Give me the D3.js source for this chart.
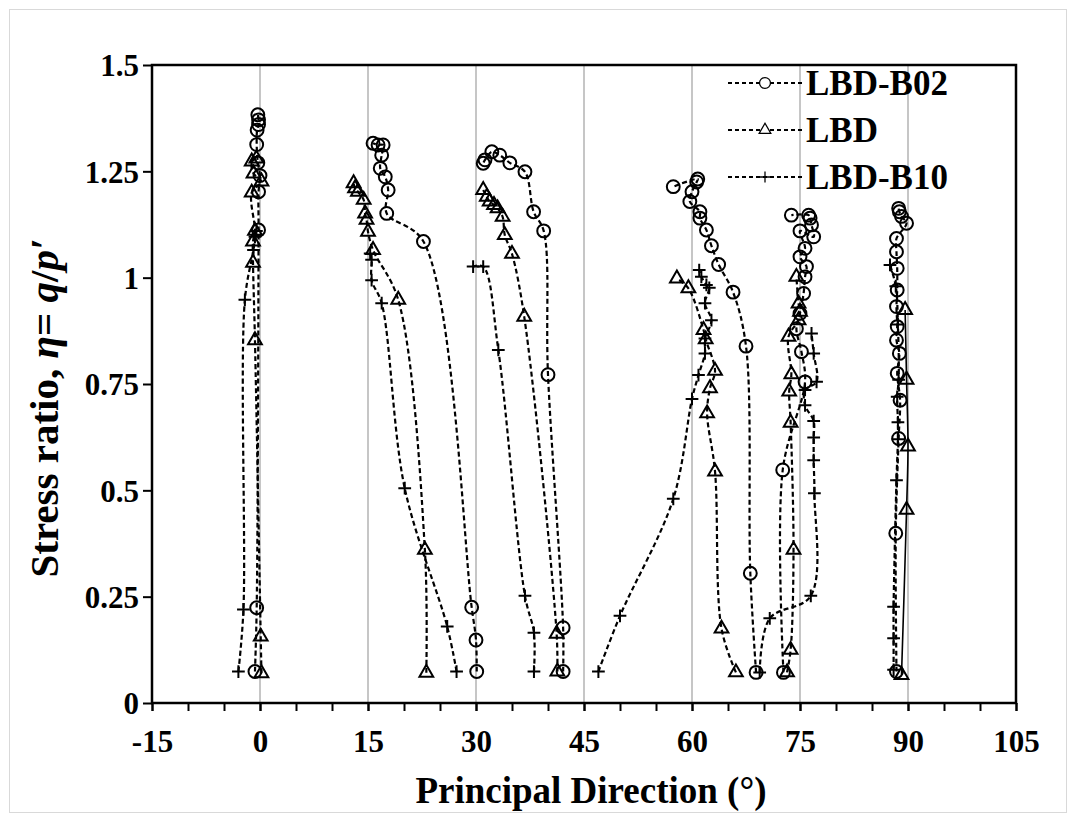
<!DOCTYPE html>
<html>
<head>
<meta charset="utf-8">
<script src="https://cdn.jsdelivr.net/npm/d3@7"></script>
<style>
  body { margin: 0; background: #fff; }
  text { font-family: "Liberation Serif", "Times New Roman", serif; font-weight: bold; fill: #000; }
</style>
</head>
<body>
<div id="chart"></div>
<script>
// data: each test is a list of [principal direction, stress ratio]
var seriesNames = ["LBD-B02", "LBD", "LBD-B10"];
var xTicks = [-15, 0, 15, 30, 45, 60, 75, 90, 105];
var yTicks = [0, 0.25, 0.5, 0.75, 1, 1.25, 1.5];
var gridX = [0, 15, 30, 45, 60, 75, 90];

var b02Tests = [
  [[-0.7,0.074],[-0.46,0.224],[-0.2,1.112],[-0.2,1.202],[0,1.24],[-0.3,1.27],[-0.46,1.313],[-0.4,1.347],[-0.2,1.36],[-0.2,1.371],[-0.3,1.383]],
  [[30.1,0.074],[30.0,0.148],[29.4,0.225],[22.7,1.085],[17.6,1.151],[17.8,1.206],[17.4,1.237],[16.7,1.257],[16.9,1.288],[17.1,1.312],[16.4,1.312],[15.7,1.316]],
  [[42.1,0.074],[42.1,0.177],[40.0,0.772],[39.4,1.11],[38.0,1.155],[36.8,1.249],[34.7,1.27],[33.3,1.288],[32.2,1.296],[31.25,1.277],[31.0,1.269]],
  [[68.9,0.072],[68.1,0.305],[67.5,0.839],[65.7,0.966],[63.7,1.031],[62.7,1.075],[62.0,1.112],[61.1,1.14],[61.1,1.155],[59.7,1.179],[60.0,1.202],[60.65,1.225],[60.8,1.232],[57.4,1.214]],
  [[72.7,0.072],[72.6,0.548],[75.7,0.755],[75.2,0.826],[74.5,0.88],[75.0,0.916],[75.5,0.963],[75.7,1.002],[75.9,1.026],[75.0,1.049],[75.7,1.069],[75.0,1.11],[76.9,1.096],[76.6,1.124],[76.4,1.14],[76.2,1.147],[73.8,1.147]],
  [[88.4,0.074],[88.3,0.399],[88.7,0.622],[88.9,0.712],[88.5,0.775],[88.8,0.822],[88.4,0.853],[88.5,0.885],[88.4,0.932],[88.5,0.971],[88.5,1.022],[88.4,1.061],[88.4,1.092],[89.8,1.128],[89.1,1.144],[88.8,1.155],[88.7,1.163]]
];

var lbdTests = [
  [[0.2,0.07],[0.1,0.156],[-0.7,0.853],[-0.97,1.035],[-0.97,1.085],[-0.7,1.11],[-1.15,1.2],[0.2,1.226],[-0.9,1.245],[-1.15,1.273],[-0.5,1.28]],
  [[23.1,0.071],[22.9,0.36],[19.2,0.948],[15.7,1.065],[15.0,1.108],[14.8,1.136],[14.6,1.151],[14.4,1.183],[13.6,1.202],[13.2,1.21],[13.0,1.222]],
  [[41.3,0.074],[41.2,0.163],[36.7,0.908],[35.0,1.056],[34.0,1.1],[33.7,1.143],[33.0,1.163],[32.5,1.171],[31.9,1.179],[31.5,1.19],[31.0,1.206]],
  [[66.1,0.072],[64.1,0.175],[63.2,0.544],[62.1,0.681],[62.5,0.74],[63.2,0.781],[61.9,0.855],[61.6,0.877],[59.5,0.975],[57.9,0.998]],
  [[73.2,0.072],[73.7,0.125],[74.1,0.36],[73.7,0.659],[73.5,0.732],[73.8,0.773],[73.4,0.861],[74.8,0.9],[75.0,0.92],[74.8,0.939],[74.5,1.002]],
  [[89.1,0.066],[89.8,0.454],[90.0,0.603],[89.8,0.76],[89.6,0.924]]
];

var b10Tests = [
  [[-3.0,0.074],[-2.3,0.22],[-2.1,0.948],[-0.9,1.065],[-0.7,1.096],[-0.5,1.11]],
  [[27.3,0.074],[26.0,0.18],[20.1,0.505],[16.9,0.94],[15.5,0.994],[15.5,1.042],[15.3,1.057]],
  [[38.05,0.074],[38.05,0.165],[36.8,0.252],[33.1,0.83],[31.0,1.026],[29.6,1.026]],
  [[47.0,0.074],[50.0,0.205],[57.4,0.48],[60.0,0.715],[60.9,0.771],[61.8,0.822],[61.8,0.857],[62.7,0.9],[61.8,0.94],[62.4,0.976],[62.0,0.983],[61.3,1.002],[61.0,1.018]],
  [[69.4,0.072],[70.8,0.199],[76.5,0.252],[77.0,0.493],[76.9,0.571],[76.9,0.624],[76.9,0.663],[75.7,0.70],[75.7,0.736],[77.3,0.755],[76.9,0.822],[76.6,0.869]],
  [[88.0,0.078],[88.0,0.152],[88.0,0.226],[88.4,0.524],[88.6,0.62],[88.6,0.66],[88.5,0.72],[88.7,0.76],[88.6,0.89],[88.3,0.98],[87.5,1.03]]
];

var svgWidth = 1075;
var svgHeight = 821;
var margin = { top: 65, right: 59, bottom: 118, left: 152 };
var width = svgWidth - margin.left - margin.right;
var height = svgHeight - margin.top - margin.bottom;

var svg = d3.select("#chart")
  .append("svg")
  .attr("width", svgWidth)
  .attr("height", svgHeight);

// light outer border
svg.append("rect")
  .attr("x", 9.5).attr("y", 9.5)
  .attr("width", 1057).attr("height", 803)
  .attr("fill", "none")
  .attr("stroke", "#d9d9d9");

var chartGroup = svg.append("g")
  .attr("transform", `translate(${margin.left}, ${margin.top})`);

var xScale = d3.scaleLinear().domain([-15, 105]).range([0, width]);
var yScale = d3.scaleLinear().domain([0, 1.5]).range([height, 0]);

// vertical grid lines
chartGroup.selectAll(".grid")
  .data(gridX)
  .enter()
  .append("line")
  .attr("x1", d => xScale(d)).attr("x2", d => xScale(d))
  .attr("y1", 0).attr("y2", height)
  .attr("stroke", "#a0a0a0")
  .attr("stroke-width", 1.2);

// frame
chartGroup.append("rect")
  .attr("width", width).attr("height", height)
  .attr("fill", "none")
  .attr("stroke", "#000")
  .attr("stroke-width", 2.5);

// minor x ticks every 5
var minorAxis = d3.axisBottom(xScale)
  .tickValues(d3.range(-15, 106, 5))
  .tickSize(8)
  .tickFormat("");
chartGroup.append("g")
  .attr("transform", `translate(0, ${height})`)
  .call(minorAxis)
  .call(g => g.select(".domain").remove())
  .call(g => g.selectAll("line").attr("stroke-width", 2));

var bottomAxis = d3.axisBottom(xScale).tickValues(xTicks).tickSize(8).tickPadding(19)
  .tickFormat(d => String(d));
var xAxis = chartGroup.append("g")
  .attr("transform", `translate(0, ${height})`)
  .call(bottomAxis);
xAxis.select(".domain").remove();
xAxis.selectAll("line").attr("stroke-width", 2);
xAxis.selectAll("text").style("font-size", "31px").attr("font-family", null);

var leftAxis = d3.axisLeft(yScale).tickValues(yTicks).tickSize(9).tickPadding(4)
  .tickFormat(d => String(d));
var yAxis = chartGroup.append("g").call(leftAxis);
yAxis.select(".domain").remove();
yAxis.selectAll("line").attr("stroke-width", 2);
yAxis.selectAll("text").style("font-size", "31px").attr("font-family", null).attr("dy", "0.35em");

// axis titles
svg.append("text")
  .attr("x", 591).attr("y", 803)
  .attr("text-anchor", "middle")
  .style("font-size", "37px")
  .text("Principal Direction (°)");

var yTitle = svg.append("text")
  .attr("transform", "translate(58, 408) rotate(-90)")
  .attr("text-anchor", "middle")
  .style("font-size", "41px");
yTitle.append("tspan").text("Stress ratio, ");
yTitle.append("tspan").style("font-style", "italic").text("η");
yTitle.append("tspan").text("= ");
yTitle.append("tspan").style("font-style", "italic").text("q");
yTitle.append("tspan").text("/");
yTitle.append("tspan").style("font-style", "italic").text("p′");

// lines and markers
var line = d3.line()
  .x(d => xScale(d[0]))
  .y(d => yScale(d[1]))
  .curve(d3.curveCatmullRom.alpha(0.5));

var symbols = [
  d3.symbol().type(d3.symbolCircle).size(130),
  d3.symbol().type(d3.symbolTriangle2 || d3.symbolTriangle).size(135),
  d3.symbol().type(d3.symbolPlus || d3.symbolCross).size(55)
];

function drawSeries(tests, idx, solidLast) {
  var g = chartGroup.append("g");
  tests.forEach(function(test, i) {
    var solid = solidLast && i === tests.length - 1;
    g.append("path")
      .attr("d", line(test))
      .attr("fill", "none")
      .attr("stroke", "#000")
      .attr("stroke-width", solid ? 1.6 : 2.2)
      .attr("stroke-dasharray", solid ? null : "5,3");
  });
  tests.forEach(function(test) {
    g.selectAll(null)
      .data(test)
      .enter()
      .append("path")
      .attr("d", symbols[idx])
      .attr("transform", d => `translate(${xScale(d[0])}, ${yScale(d[1])})`)
      .attr("fill", "none")
      .attr("stroke", "#000")
      .attr("stroke-width", 2);
  });
}

drawSeries(b02Tests, 0, false);
drawSeries(lbdTests, 1, true);
drawSeries(b10Tests, 2, false);

// legend
var legendY = [83, 130, 177];
var legend = svg.append("g");
seriesNames.forEach(function(name, i) {
  legend.append("line")
    .attr("x1", 728).attr("x2", 802)
    .attr("y1", legendY[i]).attr("y2", legendY[i])
    .attr("stroke", "#000")
    .attr("stroke-width", 2)
    .attr("stroke-dasharray", "4,3");
  legend.append("path")
    .attr("d", symbols[i])
    .attr("transform", `translate(765, ${legendY[i]}) scale(0.85)`)
    .attr("fill", "#fff")
    .attr("stroke", "#000")
    .attr("stroke-width", 1.5);
  legend.append("text")
    .attr("x", 806).attr("y", legendY[i])
    .attr("dy", "0.35em")
    .style("font-size", "35px")
    .text(name);
});
</script>
</body>
</html>
